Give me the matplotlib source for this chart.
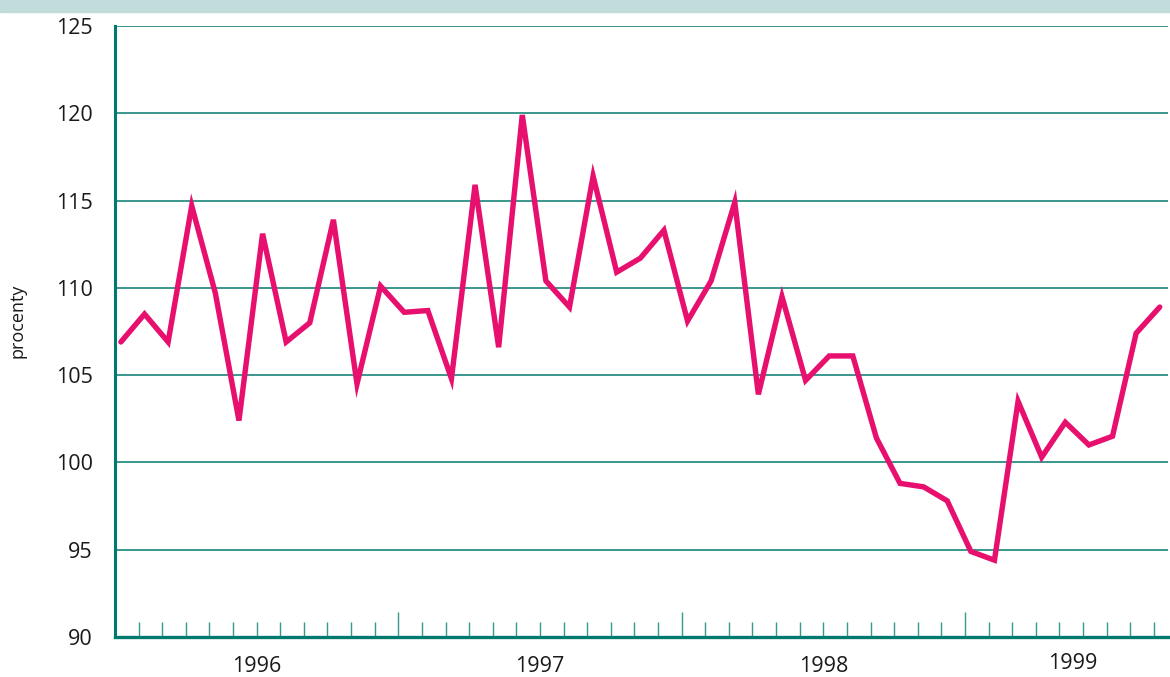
import numpy as np
import matplotlib
matplotlib.use("Agg")
import matplotlib.pyplot as plt

# monthly index, Jan 1996 .. Sep 1999
values = [106.9, 108.5, 106.9, 114.7, 109.7, 102.4, 113.1, 106.9, 108.0, 113.9,
          104.5, 110.1, 108.6, 108.7, 104.8, 115.9, 106.6, 119.9, 110.4, 108.9,
          116.4, 110.9, 111.7, 113.3, 108.1, 110.4, 114.9, 103.9, 109.5, 104.7,
          106.1, 106.1, 101.4, 98.8, 98.6, 97.8, 94.9, 94.4, 103.5, 100.3,
          102.3, 101.0, 101.5, 107.4, 108.9]
years = ["1996", "1997", "1998", "1999"]
year_pos = [5.75, 17.75, 29.75, 40.3]
year_y = [-0.048, -0.048, -0.048, -0.043]
y_ticks = [90, 95, 100, 105, 110, 115, 120, 125]

teal = "#007a70"
grid_teal = "#3a978e"
pink = "#e8106f"

plt.rcParams['font.family'] = ['Open Sans', 'DejaVu Sans']

fig = plt.figure(figsize=(11.7, 6.77), dpi=100)
# light band at the top
fig.patches.append(plt.Rectangle((0, 1 - 12 / 677), 1, 12 / 677, transform=fig.transFigure,
                                 color="#c2dcdc", zorder=0))

ax = fig.add_axes([115 / 1170, 40 / 677, 1053 / 1170, 611 / 677])

x = np.arange(len(values))
x_start = -0.25
ax.set_xlim(x_start, 44.35)
ax.set_ylim(90, 125)

for y in y_ticks[1:]:
    ax.axhline(y, color=grid_teal, lw=1.4, zorder=1)

ax.plot(x, values, color=pink, lw=3.9, solid_joinstyle='miter', solid_capstyle='round', zorder=3)

for s in ['top', 'right']:
    ax.spines[s].set_visible(False)
ax.spines['left'].set_color(teal)
ax.spines['left'].set_linewidth(2.2)
ax.spines['bottom'].set_color(teal)
ax.spines['bottom'].set_linewidth(2.4)

# month ticks, longer at year boundaries
minor = [x_start + k for k in range(1, 45) if k % 12 != 0]
major = [x_start + k for k in (12, 24, 36)]
ax.set_xticks(major)
ax.set_xticks(minor, minor=True)
ax.tick_params(axis='x', which='major', direction='in', length=18, width=1, color=grid_teal,
               labelbottom=False)
ax.tick_params(axis='x', which='minor', direction='in', length=10.5, width=1, color=grid_teal)

ax.set_yticks(y_ticks)
ax.tick_params(axis='y', length=0, pad=16, labelsize=15.5, labelcolor='#1a1a1a')

for yr, p, yy in zip(years, year_pos, year_y):
    ax.text(p, yy, yr, transform=ax.get_xaxis_transform(), ha='center', va='center',
            fontsize=15.5, color='#1a1a1a')

fig.text(17 / 1170, 1 - 321 / 677, "procenty", rotation=90, ha='center', va='center',
         fontsize=13, color='#1a1a1a')

fig.savefig("out.png", dpi=100)
